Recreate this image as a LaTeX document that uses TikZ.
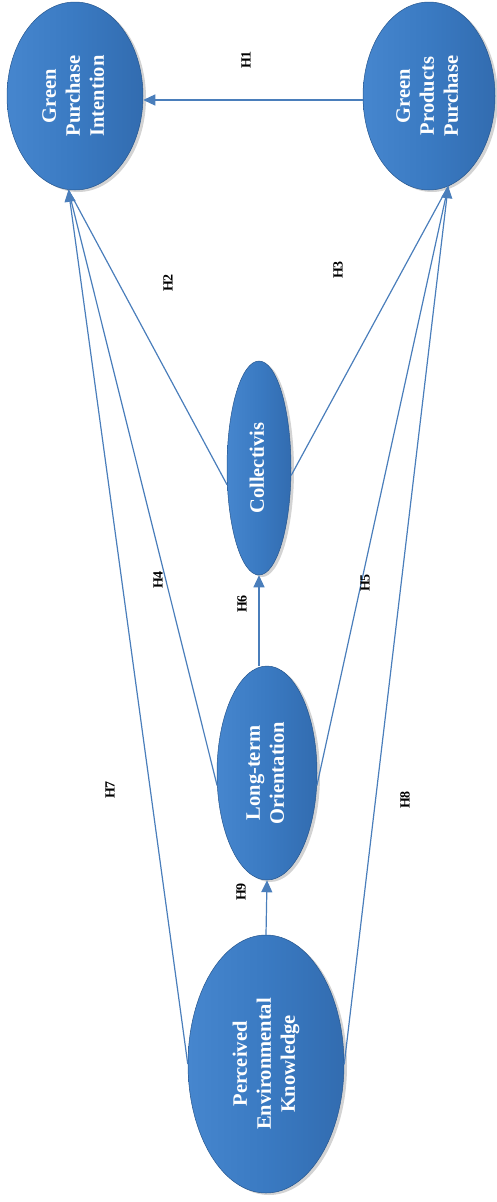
\documentclass[tikz,border=0pt]{standalone}
\usepackage{fontspec}
\setmainfont{Liberation Serif}
\usetikzlibrary{shapes.geometric,arrows.meta,shadows}

\definecolor{ellMid}{RGB}{58,122,194}
\definecolor{ellLight}{RGB}{70,134,206}
\definecolor{ellDark}{RGB}{50,108,176}
\definecolor{ellEdge}{RGB}{38,86,142}
\definecolor{linkBlue}{RGB}{74,126,187}

\tikzset{
  construct/.style={ellipse, inner sep=0pt, left color=ellLight, right color=ellDark,
    middle color=ellMid, draw=ellEdge, line width=0.5pt,
    drop shadow={opacity=0.35, shadow xshift=3pt, shadow yshift=-2pt},
    text=white, font=\bfseries\fontsize{20.5}{24}\selectfont},
  hyp/.style={rotate=90, font=\bfseries\fontsize{14}{16}\selectfont, inner sep=0pt},
  link/.style={draw=linkBlue, line width=1.2pt, -{Triangle[length=12pt,width=11pt]}},
  plain/.style={draw=linkBlue, line width=1.2pt}
}

\newcommand{\vtext}[1]{\rotatebox{90}{\begin{tabular}{@{}c@{}}#1\end{tabular}}}

\begin{document}
\begin{tikzpicture}[x=1pt,y=-1pt]
  \useasboundingbox (0,0) rectangle (497,1202);

  % constructs
  \node[construct, minimum width=136pt, minimum height=188pt] (gpi) at (75,96)
    {\vtext{Green\\Purchase\\Intention}};
  \node[construct, minimum width=132pt, minimum height=188pt] (gpp) at (429,96)
    {\vtext{Green\\Products\\Purchase}};
  \node[construct, minimum width=64pt, minimum height=214pt] (col) at (259,468)
    {\vtext{Collectivis}};
  \node[construct, minimum width=100pt, minimum height=214pt] (lto) at (267,773)
    {\vtext{Long-term\\Orientation}};
  \node[construct, minimum width=156pt, minimum height=258pt] (pek) at (266,1064)
    {\vtext{Perceived\\Environmental\\Knowledge}};

  % converging entry points
  \coordinate (gpiin) at (gpi.-94);
  \coordinate (gppin) at (gpp.-78);

  % paths
  \draw[link] (gpp.west |- 0,100) -- (gpi.east |- 0,100);
  \draw[plain] (col.208) -- (gpiin);
  \draw[plain] (lto.194) -- (gpiin);
  \draw[link] (pek.180) -- (gpiin);
  \draw[plain] (col.-13) -- (gppin);
  \draw[plain] (lto.-14) -- (gppin);
  \draw[link] (pek.0) -- (gppin);
  \draw[link] (lto.north -| col.south) -- (col.south);
  \draw[link] (pek.north) -- (lto.south);

  % hypothesis labels
  \node[hyp] (h1) at (246,60) {H1};
  \node[hyp] (h2) at (168,283) {H2};
  \node[hyp] (h3) at (338,270) {H3};
  \node[hyp] (h4) at (158,580) {H4};
  \node[hyp] (h5) at (365,583) {H5};
  \node[hyp] (h6) at (242,604) {H6};
  \node[hyp] (h7) at (110,790) {H7};
  \node[hyp] (h8) at (405,800) {H8};
  \node[hyp] (h9) at (241,892) {H9};
\end{tikzpicture}
\end{document}
